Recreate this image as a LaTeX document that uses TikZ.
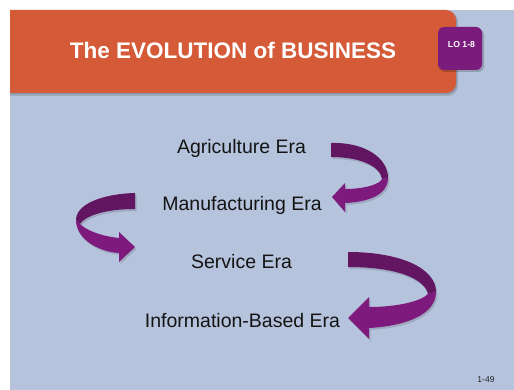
\documentclass[tikz,border=0pt]{standalone}
\usepackage{fontspec}
\setmainfont{Liberation Sans}
\definecolor{bgblue}{RGB}{182,195,220}
\definecolor{banner}{RGB}{213,90,56}
\definecolor{lopurple}{RGB}{123,27,123}
\definecolor{ribdark}{RGB}{98,22,98}
\definecolor{riblight}{RGB}{126,26,126}
\begin{document}
\begin{tikzpicture}[x=1pt,y=-1pt,
  eratext/.style={anchor=base,inner sep=0pt,font=\fontsize{19.5}{22}\selectfont,text=black!92},
  darkpart/.style={fill=ribdark,draw=none},
  lightpart/.style={fill=riblight,draw=none},
  shadowpart/.style={fill=black,opacity=0.13,draw=none}]
\useasboundingbox (0,0) rectangle (514,390);
\fill[white] (0,0) rectangle (514,390);
\fill[bgblue] (10,10) rectangle (514,390);
% banner
\begin{scope}
\clip (10,10) rectangle (514,390);
\fill[black,opacity=0.12,rounded corners=10] (-5,12) rectangle (458,96);
\fill[black,opacity=0.12,rounded corners=10] (-5,11) rectangle (457,94.5);
\fill[banner,rounded corners=10] (-5,10) rectangle (456,93);
\end{scope}
\node[anchor=base,inner sep=0pt,text=white,font=\fontsize{22.5}{26}\selectfont\bfseries] (title) at (233,59) {The EVOLUTION of BUSINESS};
% LO box
\fill[black,opacity=0.2,rounded corners=6] (439,29) rectangle (484,72);
\node[draw=none,fill=lopurple,rounded corners=6,minimum width=44,minimum height=43,inner sep=0pt] (lobox) at (460,48.5) {};
\node[anchor=base,inner sep=0pt,text=white,font=\fontsize{8.7}{10}\selectfont\bfseries] (lo) at (461.5,48) {LO 1-8};
% era texts
\node[eratext] (agr) at (241.5,154) {Agriculture Era};
\node[eratext] (man) at (242,211) {Manufacturing Era};
\node[eratext] (ser) at (241.5,268) {Service Era};
\node[eratext] (inf) at (242.5,327) {Information-Based Era};
% arrow 1 (right, agriculture -> manufacturing)
\begin{scope}[shift={(1.5,2)}]
\path[shadowpart] (331,143) .. controls (365,142) and (388,158) .. (388,178) .. controls (388,195) and (368,202) .. (345,203) -- (345,212) -- (332,197) -- (345,183) -- (345,189) .. controls (365,189) and (380,184) .. (382,179) .. controls (380,166) and (360,157) .. (331,157) -- cycle;
\end{scope}
\path[lightpart] (388,178) .. controls (388,195) and (368,202) .. (345,203) -- (345,212) -- (332,197) -- (345,183) -- (345,189) .. controls (365,189) and (380,184) .. (382,179) -- cycle;
\path[darkpart] (331,143) .. controls (365,142) and (388,158) .. (388,178) -- (382,179) .. controls (380,166) and (360,157) .. (331,157) -- cycle;
% arrow 2 (left, manufacturing -> service)
\begin{scope}[shift={(1.5,2)}]
\path[shadowpart] (135,193) .. controls (100,194) and (76,205) .. (76,220) .. controls (76,240) and (100,252) .. (119,253) -- (119,262) -- (135,247) -- (119,232) -- (119,238) .. controls (100,236) and (86,230) .. (80,224) .. controls (85,216) and (105,209) .. (135,209) -- cycle;
\end{scope}
\path[lightpart] (76,220) .. controls (76,240) and (100,252) .. (119,253) -- (119,262) -- (135,247) -- (119,232) -- (119,238) .. controls (100,236) and (86,230) .. (80,224) -- cycle;
\path[darkpart] (135,193) .. controls (100,194) and (76,205) .. (76,220) -- (80,224) .. controls (85,216) and (105,209) .. (135,209) -- cycle;
% arrow 3 (right, service -> information)
\begin{scope}[shift={(1.5,2)}]
\path[shadowpart] (348,252) .. controls (400,252) and (436,268) .. (436,292) .. controls (436,315) and (405,326) .. (369,328) -- (369,339) -- (348,318) -- (369,297) -- (369,307) .. controls (395,307) and (420,302) .. (428,294) .. controls (425,280) and (400,267) .. (348,267) -- cycle;
\end{scope}
\path[lightpart] (436,292) .. controls (436,315) and (405,326) .. (369,328) -- (369,339) -- (348,318) -- (369,297) -- (369,307) .. controls (395,307) and (420,302) .. (428,294) -- cycle;
\path[darkpart] (348,252) .. controls (400,252) and (436,268) .. (436,292) -- (428,294) .. controls (425,280) and (400,267) .. (348,267) -- cycle;
% page number
\node[anchor=base,inner sep=0pt,font=\fontsize{8.5}{10}\selectfont,text=black!85] (pg) at (486,382) {1-49};
\end{tikzpicture}
\end{document}
